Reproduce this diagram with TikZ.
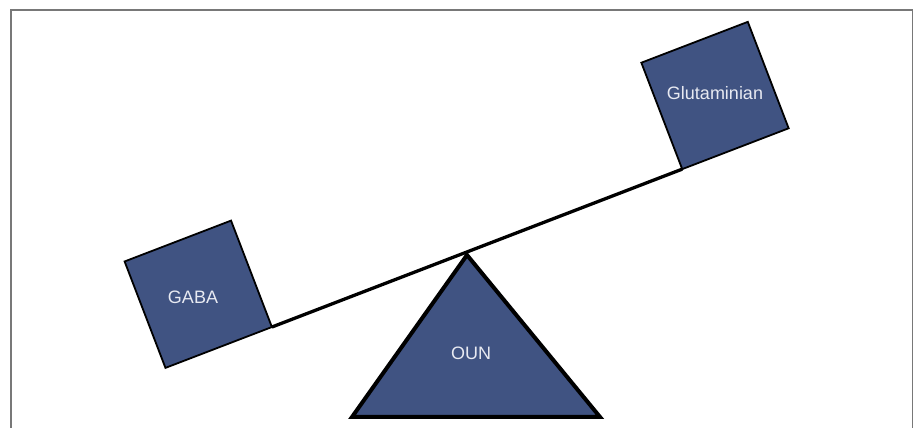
\documentclass[tikz,border=0pt]{standalone}
\usepackage{fontspec}
\setmainfont{Liberation Sans}
\definecolor{boxblue}{RGB}{64,83,130}
\definecolor{lbltext}{RGB}{232,234,242}
\definecolor{framegray}{RGB}{120,120,120}
\begin{document}
\begin{tikzpicture}[x=1pt,y=1pt,
  sq/.style={draw=black, line width=1.8pt, fill=boxblue, rectangle, minimum size=114pt, inner sep=0pt, outer sep=0pt},
  lbl/.style={text=lbltext, font=\fontsize{18}{21}\selectfont, inner sep=0pt},
  beam/.style={draw=black, line width=3.3pt},
  fulcrum/.style={draw=black, line width=4pt, fill=boxblue, line join=miter}]
\useasboundingbox (0,0) rectangle (918,428);
% frame
\draw[framegray, line width=1.5pt] (11,0) -- (11,418) -- (912.5,418) -- (912.5,0);
% fulcrum
\coordinate (apex) at (467,173);
\coordinate (bl) at (352,11);
\coordinate (br) at (600,11);
\draw[fulcrum] (apex) -- (br) -- (bl) -- cycle;
\node[lbl] (oun) at (471,75) {OUN};
% boxes
\node[sq, rotate=21] (gaba) at (198.25,133.75) {};
\node[sq, rotate=21] (glut) at (715,332.5) {};
\node[lbl] (gabat) at (193,131) {GABA};
\node[lbl] (glutt) at (715,335) {Glutaminian};
% beam
\draw[beam] (gaba.south east) -- (glut.south west);
\end{tikzpicture}
\end{document}
